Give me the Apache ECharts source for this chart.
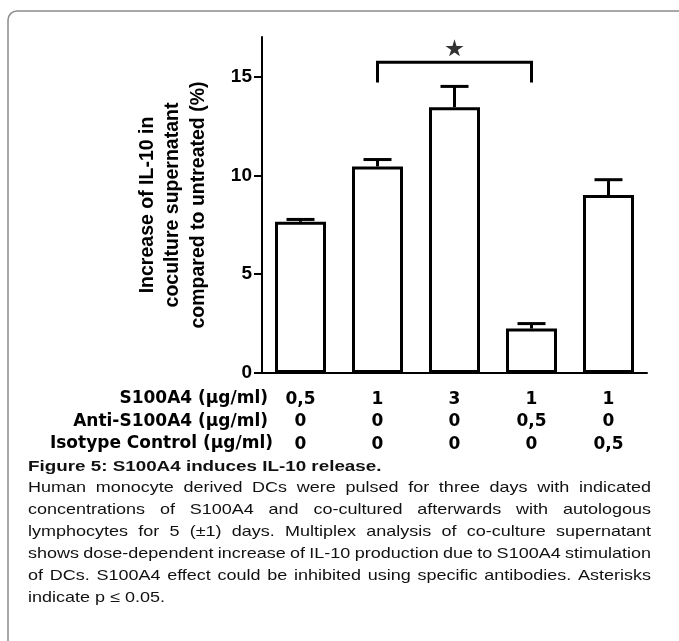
<!DOCTYPE html>
<html>
<head>
<meta charset="utf-8">
<script src="https://cdn.jsdelivr.net/npm/echarts@6/dist/echarts.min.js"></script>
<style>
html,body{margin:0;padding:0;background:#fff;}
#chart{width:679px;height:641px;}
</style>
</head>
<body>
<div id="chart"></div>
<script>
// ---- data ----
const s100a4Row = ['0,5', '1', '3', '1', '1'];
const antiRow = ['0', '0', '0', '0,5', '0'];
const isotypeRow = ['0', '0', '0', '0', '0,5'];
const rowLabels = ['S100A4 (\u03bcg/ml)', 'Anti-S100A4 (\u03bcg/ml)', 'Isotype Control (\u03bcg/ml)'];
const means = [7.65, 10.45, 13.45, 2.25, 9.0];
const errors = [0.12, 0.35, 1.05, 0.25, 0.78];
const yTicks = [0, 5, 10, 15];
const yTitle = 'Increase of IL-10 in\ncoculture supernatant\ncompared to untreated (%)';
const sigFrom = 1, sigTo = 3, sigTop = 15.72, sigDrop = 14.7, sigStarY = 16.45;
const captionTitle = 'Figure 5: S100A4 induces IL-10 release.';
const captionLines = [
  'Human monocyte derived DCs were pulsed for three days with indicated',
  'concentrations of S100A4 and co-cultured afterwards with autologous',
  'lymphocytes for 5 (\u00b11) days. Multiplex analysis of co-culture supernatant',
  'shows dose-dependent increase of IL-10 production due to S100A4 stimulation',
  'of DCs. S100A4 effect could be inhibited using specific antibodies. Asterisks',
  'indicate p \u2264 0.05.'
];

const cats = means.map((_, i) => String(i));
const chart = echarts.init(document.getElementById('chart'), null, {renderer: 'canvas'});

const tableFont = '"DejaVu Sans"';
const starPath = 'path://M50,0 L61,35 L98,35 L68,57 L79,91 L50,70 L21,91 L32,57 L2,35 L39,35 Z';

// caption layout (justified)
const capFont = '"Liberation Sans", Arial';
const capSize = 15, capScale = 1.2, capLeft = 28, capRight = 651;
const mctx = document.createElement('canvas').getContext('2d');
function mw(t, bold) { mctx.font = (bold ? 'bold ' : '') + capSize + 'px "Liberation Sans"'; return mctx.measureText(t).width; }
const capGraphics = [];
capGraphics.push({type: 'text', x: capLeft, y: 466.5, scaleX: 1.23, style: {text: captionTitle, font: 'bold 15.3px ' + capFont, fill: '#111', align: 'left', verticalAlign: 'middle'}});
captionLines.forEach((line, li) => {
  const y = 487.5 + li * 22;
  const words = line.split(' ');
  const ws = words.map(w => mw(w) * capScale);
  const total = ws.reduce((a, b) => a + b, 0);
  const justify = li < captionLines.length - 1;
  const gap = justify ? (capRight - capLeft - total) / (words.length - 1) : mw(' ') * capScale;
  let x = capLeft;
  words.forEach((w, wi) => {
    capGraphics.push({type: 'text', x: x, y: y, scaleX: capScale, style: {text: w, font: capSize + 'px ' + capFont, fill: '#111', align: 'left', verticalAlign: 'middle'}});
    x += ws[wi] + gap;
  });
});

const rowGraphics = rowLabels.map((t, i) => ({
  type: 'text', x: [268, 268, 273][i], y: 399 + i * 22.5,
  style: {text: t, font: 'bold 17px ' + tableFont, fill: '#000', align: 'right', verticalAlign: 'middle'}
}));

const option = {
  animation: false,
  backgroundColor: '#fff',
  grid: {left: 262, right: 32, top: 37, bottom: 268, containLabel: false},
  xAxis: {
    type: 'category',
    data: cats,
    axisLine: {lineStyle: {color: '#000', width: 2}},
    axisTick: {alignWithLabel: true, length: 6, lineStyle: {color: '#000', width: 2}},
    axisLabel: {
      margin: 15,
      formatter: (v, i) => s100a4Row[i] + '\n' + antiRow[i] + '\n' + isotypeRow[i],
      fontFamily: tableFont, fontWeight: 'bold', fontSize: 17, color: '#000', lineHeight: 22.5
    },
    splitLine: {show: false}
  },
  yAxis: {
    type: 'value',
    min: 0, max: 17, interval: 5,
    name: yTitle,
    nameLocation: 'middle',
    nameRotate: 90,
    nameGap: 51,
    nameTextStyle: {fontFamily: '"Liberation Sans", Arial', fontWeight: 'bold', fontSize: 19.5, lineHeight: 25.5, color: '#000'},
    axisLine: {show: true, lineStyle: {color: '#000', width: 2}},
    axisTick: {show: true, length: 8, lineStyle: {color: '#000', width: 2}, customValues: yTicks},
    axisLabel: {margin: 10, customValues: yTicks, fontFamily: '"Liberation Sans", Arial', fontWeight: 'bold', fontSize: 19, color: '#000'},
    splitLine: {show: false}
  },
  series: [
    {
      type: 'bar',
      data: means,
      barWidth: 51,
      itemStyle: {color: '#fff', borderColor: '#000', borderWidth: 3},
      z: 2
    },
    {
      type: 'custom',
      data: means.map((m, i) => [i, m, errors[i]]),
      z: 3,
      renderItem: function (params, api) {
        const i = api.value(0), m = api.value(1), e = api.value(2);
        const base = api.coord([i, m]);
        const top = api.coord([i, m + e]);
        return {
          type: 'group',
          children: [
            {type: 'line', shape: {x1: base[0], y1: base[1], x2: top[0], y2: top[1]}, style: {stroke: '#000', lineWidth: 3}},
            {type: 'line', shape: {x1: top[0] - 14, y1: top[1], x2: top[0] + 14, y2: top[1]}, style: {stroke: '#000', lineWidth: 3}}
          ]
        };
      }
    },
    {
      type: 'custom',
      data: [[sigFrom, sigTo, sigTop, sigDrop]],
      z: 3,
      renderItem: function (params, api) {
        const a = api.coord([api.value(0), api.value(3)]);
        const b = api.coord([api.value(0), api.value(2)]);
        const c = api.coord([api.value(1), api.value(2)]);
        const d = api.coord([api.value(1), api.value(3)]);
        return {type: 'polyline', shape: {points: [a, b, c, d]}, style: {stroke: '#000', lineWidth: 3, fill: null}};
      }
    },
    {
      type: 'scatter',
      data: [[(sigFrom + sigTo) / 2, sigStarY]],
      symbol: starPath,
      symbolSize: [18, 17],
      itemStyle: {color: '#000'},
      z: 4
    }
  ],
  graphic: [
    {type: 'rect', shape: {x: 8, y: 11, width: 720, height: 720, r: 9}, style: {fill: null, stroke: '#8c8c8c', lineWidth: 1.5}, silent: true, z: 0}
  ].concat(rowGraphics).concat(capGraphics)
};
chart.setOption(option);
</script>
</body>
</html>
